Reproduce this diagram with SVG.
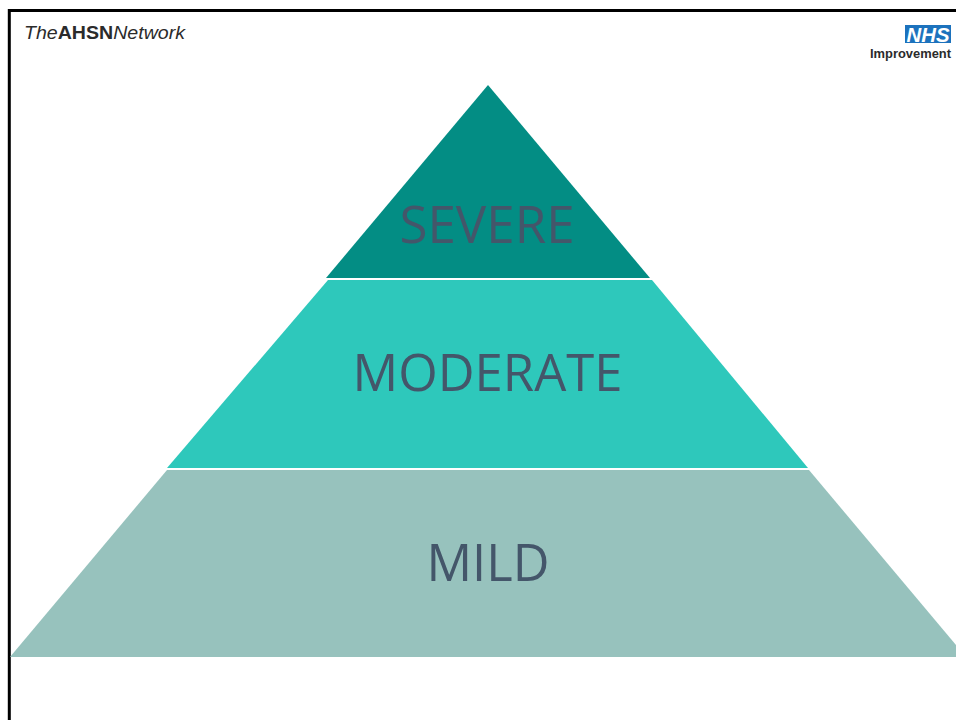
<svg xmlns="http://www.w3.org/2000/svg" width="956" height="720" viewBox="0 0 956 720">
<style>
.lbl{font-family:"Open Sans","Noto Sans",sans-serif;font-size:52px;fill:#44566a;text-anchor:middle}
.sm{font-family:"Liberation Sans",Arial,sans-serif;fill:#2b2b2b}
</style>
<rect width="956" height="720" fill="#fff"/>
<g id="frame"><path d="M9.300 720V10.500H956" fill="none" stroke="#000" stroke-width="3"/></g>
<g id="logo-ahsn"><text class="sm" x="24" y="38.500" font-size="19" textLength="161" lengthAdjust="spacingAndGlyphs"><tspan font-style="italic">The</tspan><tspan font-weight="700">AHSN</tspan><tspan font-style="italic">Network</tspan></text></g>
<g id="logo-nhs">
<rect x="905" y="25" width="46" height="18" fill="#1c72bd"/>
<text x="928" y="41.500" font-family="Liberation Sans,Arial,sans-serif" font-size="21" font-weight="700" font-style="italic" fill="#fff" text-anchor="middle" textLength="43" lengthAdjust="spacingAndGlyphs">NHS</text>
<text class="sm" x="870" y="58" font-size="13" font-weight="700" textLength="81" lengthAdjust="spacingAndGlyphs">Improvement</text>
</g>
<g id="severe"><polygon points="488,85 650,278 326,278" fill="#038d84"/><text class="lbl" x="487" y="243" textLength="175" lengthAdjust="spacingAndGlyphs">SEVERE</text></g>
<g id="moderate"><polygon points="328,280 652,280 808,468 167,468" fill="#2ec8bb"/><text class="lbl" x="487.500" y="391" textLength="270" lengthAdjust="spacingAndGlyphs">MODERATE</text></g>
<g id="mild"><polygon points="167,470 809,470 956,645 956,657 10,657" fill="#97c2bd"/><text class="lbl" x="488" y="581" textLength="123" lengthAdjust="spacingAndGlyphs">MILD</text></g>
</svg>
